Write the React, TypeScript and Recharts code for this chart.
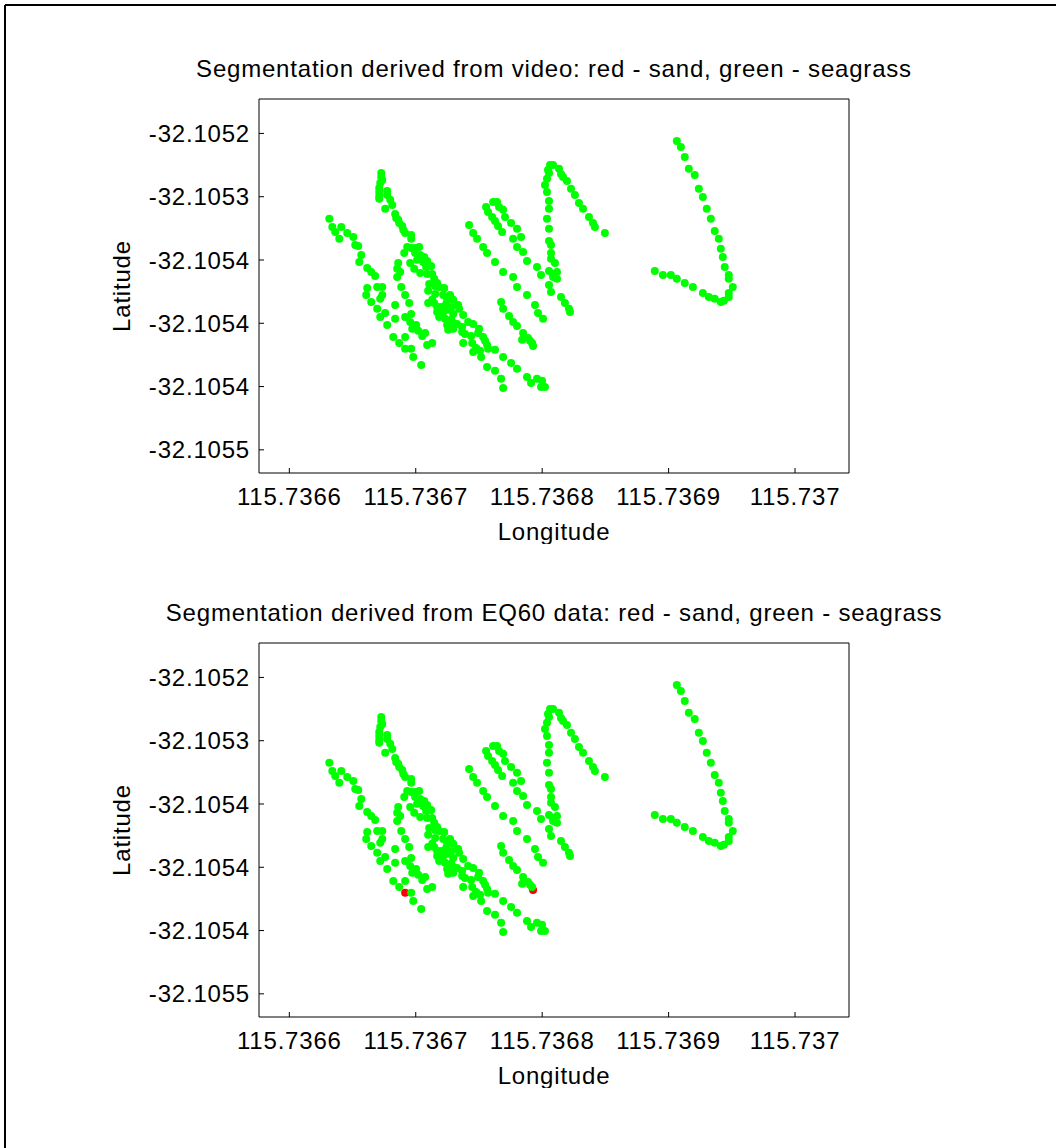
import React from 'react';
import { ScatterChart, Scatter, XAxis, YAxis } from 'recharts';

// survey tracks, [longitude, latitude]
const trackA: [number, number][] = [
  [115.7366316, -32.1052675], [115.736634, -32.1052739], [115.7366363, -32.1052778], [115.7366411, -32.1052739],
  [115.7366395, -32.1052833], [115.7366458, -32.1052786], [115.7366506, -32.1052818], [115.7366521, -32.1052881],
  [115.7366545, -32.1052889], [115.7366569, -32.105296], [115.7366553, -32.1053015], [115.7366616, -32.1053063],
  [115.7366648, -32.1053094], [115.7366679, -32.1053126],
  [115.7366616, -32.1053221], [115.7366608, -32.1053276], [115.7366648, -32.1053331], [115.7366695, -32.1053386],
  [115.7366719, -32.105345], [115.7366774, -32.1053513], [115.7366822, -32.1053608], [115.7366869, -32.1053655],
  [115.7366916, -32.1053702], [115.736698, -32.1053766], [115.7367043, -32.1053829],
];
const trackB: [number, number][] = [
  [115.7366695, -32.1053213], [115.7366735, -32.1053213], [115.7366735, -32.1053276], [115.7366719, -32.1053307],
  [115.7366758, -32.1053418],
];
const trackC: [number, number][] = [
  [115.7366727, -32.1052312], [115.7366727, -32.1052344], [115.7366735, -32.1052367], [115.7366719, -32.1052391],
  [115.7366711, -32.1052431], [115.7366711, -32.1052462], [115.7366711, -32.1052494], [115.7366711, -32.1052517],
  [115.7366774, -32.1052454], [115.7366774, -32.1052486], [115.7366798, -32.1052525], [115.7366814, -32.1052565],
  [115.7366758, -32.1052596],
  [115.7366837, -32.1052636], [115.7366845, -32.1052668], [115.7366861, -32.1052683], [115.7366869, -32.1052707],
  [115.7366893, -32.1052731], [115.7366901, -32.1052762], [115.7366916, -32.1052786], [115.7366964, -32.1052802],
  [115.7366964, -32.1052833],
];
const trackD: [number, number][] = [
  [115.7366932, -32.1052897], [115.7366964, -32.1052905], [115.7366995, -32.1052905], [115.7367027, -32.1052897],
  [115.7366909, -32.1052944], [115.7366995, -32.1052944], [115.7367035, -32.105296], [115.7367011, -32.1052999],
  [115.7367067, -32.1052976], [115.7367059, -32.1053015], [115.736709, -32.1053007], [115.7367082, -32.1053055],
  [115.7367122, -32.1053047], [115.7366956, -32.1053023], [115.7366988, -32.105307], [115.7367035, -32.1053102],
  [115.736709, -32.105311], [115.736713, -32.105311], [115.7367146, -32.1053149], [115.7367169, -32.1053181],
  [115.7367106, -32.1053189], [115.7367153, -32.1053205], [115.7367185, -32.1053213], [115.7367225, -32.1053221],
  [115.7367098, -32.1053244], [115.7367153, -32.1053268], [115.7367217, -32.1053276], [115.7367272, -32.1053276],
  [115.7367248, -32.1053307], [115.7367296, -32.1053315], [115.7367335, -32.1053355], [115.7367343, -32.1053386],
  [115.7367375, -32.1053434], [115.736713, -32.1053315], [115.7367098, -32.1053339], [115.7367146, -32.1053339],
  [115.7367169, -32.1053371], [115.7367201, -32.1053371], [115.736724, -32.1053347], [115.736728, -32.1053371],
  [115.7367169, -32.105341], [115.7367217, -32.105341], [115.7367256, -32.1053394], [115.7367296, -32.1053426],
  [115.7367185, -32.105345], [115.7367232, -32.1053465], [115.736728, -32.1053473], [115.7367248, -32.1053513],
  [115.7367296, -32.1053497], [115.7367327, -32.1053505], [115.7367367, -32.1053529], [115.7367414, -32.1053489],
  [115.7367454, -32.1053505], [115.7367501, -32.1053544], [115.7367256, -32.1053552], [115.7367296, -32.1053544],
  [115.7367367, -32.1053568], [115.736739, -32.1053584], [115.7367438, -32.10536], [115.7367493, -32.1053576],
  [115.7367533, -32.1053608], [115.7367548, -32.1053639], [115.7367564, -32.1053671], [115.7367375, -32.1053655],
  [115.7367446, -32.1053655], [115.7367477, -32.1053695], [115.7367509, -32.1053718], [115.7367572, -32.1053702],
  [115.7367627, -32.105371], [115.7367454, -32.1053726], [115.7367517, -32.1053766], [115.7367564, -32.1053845],
  [115.7367627, -32.1053876], [115.7367675, -32.1053939], [115.7367691, -32.1054011],
];
const trackE: [number, number][] = [
  [115.7366861, -32.1053023], [115.7366853, -32.105307], [115.7366877, -32.1053094], [115.7366853, -32.1053134],
  [115.7366885, -32.1053213], [115.7366916, -32.1053276], [115.7366948, -32.1053339], [115.7366837, -32.1053355],
  [115.7366837, -32.1053465], [115.7366916, -32.105345], [115.7366964, -32.1053426], [115.7366956, -32.1053489],
  [115.7367003, -32.1053513], [115.7366972, -32.1053544], [115.7367019, -32.105356], [115.7367074, -32.1053576],
  [115.7367051, -32.10536], [115.7366916, -32.1053608], [115.736709, -32.1053671], [115.736713, -32.1053655],
  [115.7366964, -32.1053702],
];
const trackF: [number, number][] = [
  [115.7367422, -32.1052723], [115.7367454, -32.1052786], [115.7367485, -32.1052833], [115.7367533, -32.1052897],
  [115.7367564, -32.1052944], [115.7367627, -32.1053015], [115.7367691, -32.1053094], [115.736777, -32.1053134],
  [115.7367801, -32.1053213], [115.736788, -32.1053276], [115.7367943, -32.1053355], [115.7367967, -32.1053418],
  [115.7368007, -32.1053465],
];
const trackG: [number, number][] = [
  [115.7367556, -32.1052581], [115.7367572, -32.105262], [115.7367604, -32.105266], [115.7367627, -32.1052691],
  [115.7367651, -32.1052731], [115.7367683, -32.1052778], [115.7367612, -32.1052541], [115.7367643, -32.1052541],
  [115.7367659, -32.1052581], [115.7367691, -32.1052604], [115.7367706, -32.105266], [115.7367754, -32.1052707],
  [115.7367801, -32.1052754], [115.736777, -32.1052833], [115.7367833, -32.1052818], [115.7367801, -32.1052897],
  [115.7367849, -32.1052936], [115.736788, -32.1053007], [115.7367959, -32.1053055], [115.7367991, -32.1053118],
];
const trackH: [number, number][] = [
  [115.7367675, -32.1053331], [115.7367691, -32.1053386], [115.7367738, -32.1053442], [115.736777, -32.1053489],
  [115.7367801, -32.1053521], [115.7367849, -32.1053576], [115.7367841, -32.1053631], [115.7367888, -32.1053616],
  [115.7367904, -32.1053639], [115.736792, -32.1053655], [115.7367928, -32.1053679],
  [115.7367691, -32.1053766], [115.7367754, -32.1053813], [115.7367801, -32.105386], [115.736788, -32.1053924],
  [115.7367912, -32.1053971], [115.7367959, -32.1053939], [115.7367999, -32.1053955], [115.7367991, -32.1054003],
  [115.7368022, -32.1054003],
];
const trackN: [number, number][] = [
  [115.7368062, -32.1052249], [115.7368086, -32.1052249], [115.7368046, -32.1052288], [115.7368054, -32.1052312],
  [115.7368133, -32.105228], [115.7368149, -32.105232], [115.7368165, -32.1052344], [115.7368196, -32.1052375],
  [115.7368228, -32.1052438], [115.7368259, -32.1052486], [115.7368291, -32.1052549], [115.7368323, -32.1052596],
  [115.736837, -32.105266], [115.7368402, -32.1052707], [115.7368417, -32.1052739], [115.7368496, -32.1052786],
  [115.7368038, -32.1052359], [115.7368022, -32.1052407], [115.7368038, -32.1052462], [115.7368054, -32.1052533],
  [115.7368054, -32.1052596], [115.7368038, -32.1052675], [115.7368054, -32.1052754], [115.7368054, -32.1052849],
  [115.736807, -32.1052881], [115.736807, -32.1052944], [115.736807, -32.1052991], [115.7368101, -32.1053023],
  [115.7368054, -32.1053086], [115.7368086, -32.105311], [115.7368117, -32.1053094], [115.7368117, -32.1053149],
  [115.7368086, -32.1053134], [115.7368054, -32.1053197], [115.736807, -32.1053252],
  [115.7368149, -32.1053292], [115.736818, -32.1053339], [115.7368212, -32.1053386], [115.736822, -32.105341],
];
const trackV: [number, number][] = [
  [115.7369065, -32.1052059], [115.7369097, -32.1052107], [115.7369128, -32.1052186], [115.736916, -32.105228],
  [115.7369207, -32.1052328], [115.7369239, -32.1052438], [115.7369271, -32.1052502], [115.7369302, -32.1052596],
  [115.7369334, -32.1052675], [115.7369365, -32.105277], [115.7369397, -32.1052833], [115.7369413, -32.1052912],
  [115.7369429, -32.1052976], [115.7369444, -32.1053055], [115.7369476, -32.1053118], [115.7369476, -32.1053149],
  [115.7369508, -32.1053213], [115.7369476, -32.105326], [115.7369476, -32.1053292], [115.7369437, -32.1053323],
  [115.7369413, -32.1053331], [115.7369365, -32.1053307], [115.7369318, -32.1053292], [115.7369271, -32.105326],
  [115.7369192, -32.1053213], [115.7369128, -32.1053181], [115.7369065, -32.1053149], [115.7369018, -32.1053118],
  [115.7368955, -32.1053118], [115.7368891, -32.1053086],
];

// points the EQ60 classification calls sand
const eq60Sand: [number, number][] = [
  [115.7366916, -32.1053702],
  [115.7367928, -32.1053679],
];

const xTicks = [115.7366, 115.7367, 115.7368, 115.7369, 115.737];
const xTickLabels = ['115.7366', '115.7367', '115.7368', '115.7369', '115.737'];
const yTicks = [-32.1052, -32.10525, -32.1053, -32.10535, -32.1054, -32.10545];
const yTickLabels = ['-32.1052', '-32.1053', '-32.1054', '-32.1054', '-32.1054', '-32.1055'];
const lonDomain = [115.736576, 115.7370427];
const latDomain = [-32.1054683, -32.1051728];

const FONT = '"Liberation Sans", Arial, Helvetica, sans-serif';

const allPoints = [...trackA, ...trackB, ...trackC, ...trackD, ...trackE, ...trackF, ...trackG, ...trackH, ...trackN, ...trackV]
  .map(([lon, lat]) => ({ lon, lat }));
const isSand = (p: { lon: number; lat: number }) => eq60Sand.some(([a, b]) => a === p.lon && b === p.lat);

const dot = (color: string) => (props: any) => (
  <circle cx={props.cx} cy={props.cy} r={4} fill={color} stroke="none" />
);

const tickStyle = { fill: '#000', fontSize: 24, fontFamily: FONT, letterSpacing: 0.8 };
const textProps = { fontSize: 24, fontFamily: FONT, fill: '#000', letterSpacing: 0.8 };

function Panel({ title, green, red }: { title: string; green: any[]; red: any[] }) {
  return (
    <div style={{ position: 'relative', width: 1056, height: 544 }}>
      <ScatterChart width={1056} height={544} margin={{ top: 98, right: 206, bottom: 0, left: 0 }}>
        <XAxis
          type="number"
          dataKey="lon"
          domain={lonDomain}
          allowDataOverflow
          ticks={xTicks}
          interval={0}
          tickFormatter={(v: number, i: number) => xTickLabels[i]}
          height={71}
          tickSize={-5}
          tickMargin={20}
          tick={tickStyle}
          axisLine={{ stroke: '#000' }}
          tickLine={{ stroke: '#000' }}
        />
        <XAxis
          xAxisId="top"
          orientation="top"
          type="number"
          domain={lonDomain}
          allowDataOverflow
          ticks={xTicks}
          interval={0}
          height={1}
          tickSize={-5}
          tick={false}
          axisLine={{ stroke: '#000' }}
          tickLine={{ stroke: '#000' }}
        />
        <YAxis
          type="number"
          dataKey="lat"
          domain={latDomain}
          allowDataOverflow
          ticks={yTicks}
          interval={0}
          tickFormatter={(v: number, i: number) => yTickLabels[i]}
          width={259}
          tickSize={-5}
          tickMargin={14}
          tick={tickStyle}
          axisLine={{ stroke: '#000' }}
          tickLine={{ stroke: '#000' }}
        />
        <YAxis
          yAxisId="right"
          orientation="right"
          type="number"
          domain={latDomain}
          allowDataOverflow
          ticks={yTicks}
          interval={0}
          width={1}
          tickSize={-5}
          tick={false}
          axisLine={{ stroke: '#000' }}
          tickLine={{ stroke: '#000' }}
        />
        <Scatter data={red} shape={dot('#ff0000')} isAnimationActive={false} />
        <Scatter data={green} shape={dot('#00ff00')} isAnimationActive={false} />
      </ScatterChart>
      <svg width={1056} height={544} style={{ position: 'absolute', left: 0, top: 0, pointerEvents: 'none' }}>
        <text x={554} y={77} textAnchor="middle" {...textProps}>{title}</text>
        <text x={554} y={540} textAnchor="middle" {...textProps}>Longitude</text>
        <text x={130} y={286} textAnchor="middle" {...textProps} transform="rotate(-90 130 286)">Latitude</text>
      </svg>
    </div>
  );
}

export default function App() {
  const eqGreen = allPoints.filter((p) => !isSand(p));
  const eqRed = eq60Sand.map(([lon, lat]) => ({ lon, lat }));
  return (
    <div style={{ position: 'absolute', left: 0, top: 0, width: 1056, height: 1148, background: '#fff' }}>
      <Panel title="Segmentation derived from video: red - sand, green - seagrass" green={allPoints} red={[]} />
      <Panel title="Segmentation derived from EQ60 data: red - sand, green - seagrass" green={eqGreen} red={eqRed} />
      <svg width={1056} height={1148} style={{ position: 'absolute', left: 0, top: 0, pointerEvents: 'none' }}>
        <line x1={5} y1={5} x2={1056} y2={5} stroke="#000" strokeWidth={2} />
        <line x1={5} y1={5} x2={5} y2={1148} stroke="#000" strokeWidth={2} />
      </svg>
    </div>
  );
}
